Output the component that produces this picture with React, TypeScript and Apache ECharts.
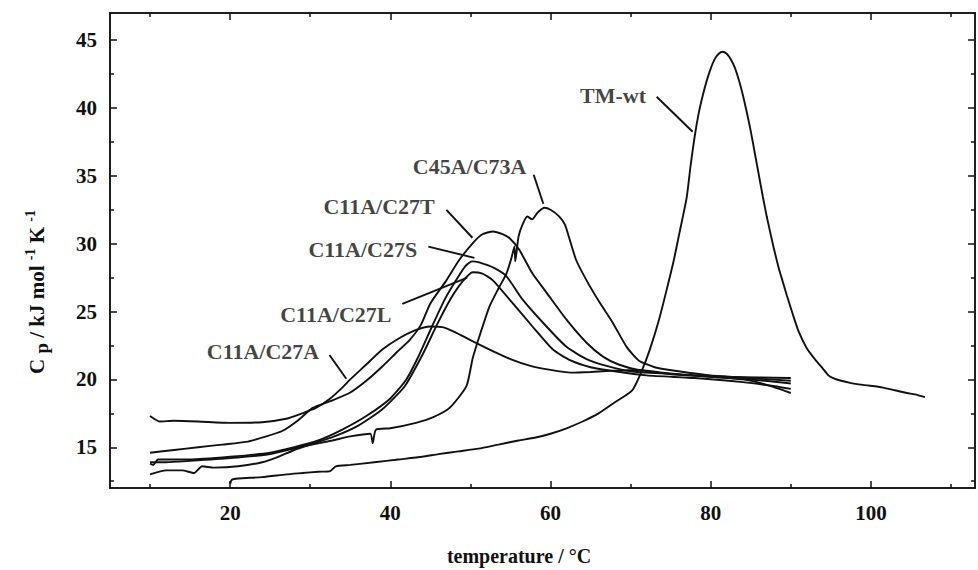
import React, { useEffect, useRef } from "react";
import * as echarts from "echarts";

// ---- axis ranges and ticks ----
const xMin = 5;
const xMax = 113;
const yMin = 12;
const yMax = 47;
const xLabelValues = [20, 40, 60, 80, 100];
const xMinorTicks = [10, 30, 50, 70, 90, 110];
const yLabelValues = [15, 20, 25, 30, 35, 40, 45];
const yMinorTicks = [12.5, 17.5, 22.5, 27.5, 32.5, 37.5, 42.5];

// ---- data: [temperature °C, Cp kJ/mol/K] ----
const tmWt: [number, number][] = [
  [20, 12.3], [20.2, 12.6], [21, 12.7], [24, 12.8], [27, 13.0], [29, 13.1], [31, 13.2], [32.5, 13.25],
  [33.2, 13.6], [35, 13.7], [38, 13.9], [41, 14.1], [44, 14.3], [46, 14.5], [48.5, 14.7], [51, 14.9],
  [53.5, 15.2], [56, 15.5], [58, 15.7], [60, 16.0], [62, 16.4], [64, 16.9], [66, 17.5], [68, 18.3],
  [70.2, 19.2], [71.3, 20.5], [72.4, 22.2], [73.5, 24.3], [74.5, 26.6], [75.4, 28.8], [76.1, 30.8],
  [77, 33.4], [77.5, 35.8], [78, 37.9], [78.5, 39.6], [79, 40.9], [79.5, 42.0], [80, 42.9],
  [80.5, 43.6], [81, 44.0], [81.5, 44.15], [82, 44.0], [82.5, 43.6], [83, 43.0], [83.5, 42.1],
  [84, 41.0], [84.5, 39.7], [85, 38.3], [85.5, 36.7], [86, 35.1], [86.5, 33.5], [87, 32.0],
  [87.75, 30.0], [88.5, 28.2], [89, 27.2], [89.5, 26.2], [90.25, 24.8], [91, 23.5], [92, 22.3],
  [93, 21.5], [94, 20.8], [94.7, 20.3], [95.3, 20.1], [96.3, 19.9], [97.4, 19.75],
  [99, 19.6], [101.5, 19.4], [103, 19.2], [104.5, 19.0], [105.5, 18.9], [106.75, 18.7],
];

const c45aC73a: [number, number][] = [
  [10, 13.9], [12, 13.9], [15, 14.0], [20, 14.2], [25, 14.5], [28.6, 15.0], [32.75, 15.5],
  [35, 15.8], [37.5, 16.0], [37.8, 15.3], [38.2, 16.3], [40, 16.4], [43.2, 16.8], [45.3, 17.2],
  [47.4, 17.9], [49.5, 19.5], [50.3, 21.6], [51.3, 23.5], [52.4, 25.4], [53.5, 26.7], [54.5, 27.8],
  [55.1, 28.9], [55.5, 29.8], [55.6, 28.7], [56.0, 30.5], [56.5, 31.4], [57.1, 32.0], [57.7, 31.8],
  [58.4, 32.3], [59.25, 32.65], [60, 32.5], [61.1, 32.0], [61.8, 31.4], [62.4, 30.3], [63.2, 28.8],
  [64.5, 27.3], [66.1, 25.7], [67.75, 24.2], [69.5, 22.4], [71, 21.4], [73, 20.9], [76, 20.6],
  [80, 20.3], [85, 20.1], [90, 19.9],
];

const c11aC27t: [number, number][] = [
  [10, 14.6], [13, 14.8], [16, 15.0], [19, 15.2], [22, 15.4], [24.5, 15.8], [26.5, 16.2],
  [28.5, 17.0], [30.3, 17.9], [32.5, 18.4], [34.9, 19.0], [37, 19.9], [39, 20.95], [40.8, 22.0],
  [42.4, 22.9], [43.8, 24.0], [45, 25.6], [47, 27.3], [48.6, 28.8], [50.3, 30.05], [51.5, 30.7],
  [52.8, 30.9], [54, 30.7], [54.9, 30.4], [56.1, 29.55], [57.75, 27.8], [59.5, 26.4], [62, 24.4],
  [64.5, 22.7], [66.5, 21.7], [68.5, 21.1], [71, 20.7], [75, 20.4], [80, 20.2], [84, 20.0],
  [87, 19.6], [90, 19.0],
];

const c11aC27s: [number, number][] = [
  [10, 13.8], [10.4, 13.7], [11, 14.1], [15, 14.1], [20, 14.3], [25, 14.6], [28, 15.0], [31, 15.5],
  [34, 16.3], [37, 17.3], [40, 18.6], [42, 20.0], [43.6, 21.8], [45.2, 23.9], [46.8, 25.9],
  [48.2, 27.3], [49.3, 28.3], [50.2, 28.7], [51.2, 28.6], [53, 28.2], [54.5, 27.6], [56.5, 25.9],
  [59.5, 23.9], [62, 22.4], [64.5, 21.5], [67, 21.0], [70, 20.6], [75, 20.4], [80, 20.2],
  [85, 20.0], [90, 19.7],
];

const c11aC27l: [number, number][] = [
  [10, 13.0], [12, 13.3], [14, 13.3], [15.5, 13.1], [16.5, 13.6], [18, 13.5], [21, 13.6],
  [24, 13.9], [26, 14.3], [28, 14.8], [30, 15.2], [33, 15.8], [36, 16.6], [39, 17.8], [41.8, 19.5],
  [44, 21.8], [45.8, 24.0], [47.5, 25.9], [49, 27.2], [50.3, 27.9], [51.5, 27.8], [52.8, 27.3],
  [55.3, 25.6], [57.75, 23.9], [60.3, 22.2], [62.5, 21.4], [65, 20.9], [68, 20.6], [72, 20.3],
  [78, 20.1], [84, 19.8], [88, 19.5], [90, 19.3],
];

const c11aC27a: [number, number][] = [
  [10, 17.3], [10.5, 17.1], [11.2, 16.9], [13, 16.95], [16, 16.9], [20, 16.8], [24, 16.85],
  [27, 17.1], [29, 17.5], [30.7, 17.9], [32.5, 18.6], [34, 19.4], [35, 20.0], [37, 21.1],
  [39, 22.2], [41, 23.0], [43, 23.6], [45, 23.9], [46.5, 23.85], [48, 23.5], [50, 22.9],
  [52.4, 22.2], [55, 21.5], [57.5, 21.0], [60, 20.7], [62.5, 20.5], [65, 20.55], [68, 20.65],
  [71, 20.7], [74, 20.5], [78, 20.3], [82, 20.2], [86, 20.15], [90, 20.1],
];

const seriesNames = ["TM-wt", "C45A/C73A", "C11A/C27T", "C11A/C27S", "C11A/C27L", "C11A/C27A"];
const seriesData = [tmWt, c45aC73a, c11aC27t, c11aC27s, c11aC27l, c11aC27a];

// ---- annotation labels (data coordinates) ----
const labelNames = ["TM-wt", "C45A/C73A", "C11A/C27T", "C11A/C27S", "C11A/C27L", "C11A/C27A"];
const labelPos: [number, number][] = [
  [67.8, 40.9], [49.9, 35.67], [38.6, 32.72], [36.56, 29.55], [33.2, 24.76], [24.1, 22.04],
];
const leaderStart: [number, number][] = [
  [73.25, 40.83], [57.9, 35.08], [47.0, 32.5], [44.75, 29.78], [41.5, 25.57], [32.4, 21.8],
];
const leaderEnd: [number, number][] = [
  [77.75, 38.25], [59.1, 32.94], [50.25, 30.44], [50.5, 28.96], [49.6, 27.5], [34.5, 20.05],
];

const SERIF = "'Liberation Serif', 'Times New Roman', 'DejaVu Serif', serif";
const BLACK = "#111";

export default function App() {
  const ref = useRef<HTMLDivElement>(null);

  useEffect(() => {
    if (!ref.current) return;
    const chart = echarts.init(ref.current, undefined, { renderer: "svg" });

    const axisLineStyle = { color: BLACK, width: 1.5 };
    const baseAxis = {
      type: "value" as const,
      splitLine: { show: false },
      axisLine: { show: true, onZero: false, lineStyle: axisLineStyle },
    };
    const tickLabelStyle = {
      color: BLACK,
      fontFamily: SERIF,
      fontWeight: "bold" as const,
      fontSize: 21,
    };

    const curveSeries = seriesNames.map((n, i) => ({
      name: n,
      type: "line" as const,
      data: seriesData[i],
      showSymbol: false,
      symbol: "none",
      smooth: 0.2,
      lineStyle: { color: BLACK, width: 1.9 },
      silent: true,
      z: 3,
    }));

    const leaderSeries = labelNames.map((n, i) => ({
      name: "leader-" + n,
      type: "line" as const,
      data: [leaderStart[i], leaderEnd[i]],
      symbol: "none",
      lineStyle: { color: BLACK, width: 1.9 },
      silent: true,
      z: 4,
    }));

    const labelSeries = {
      name: "labels",
      type: "scatter" as const,
      symbolSize: 0,
      data: labelNames.map((n, i) => ({ name: n, value: labelPos[i] })),
      label: {
        show: true,
        position: "inside" as const,
        formatter: "{b}",
        color: BLACK,
        fontFamily: SERIF,
        fontWeight: "bold" as const,
        fontSize: 22,
      },
      silent: true,
      z: 5,
    };

    chart.setOption({
      animation: false,
      backgroundColor: "#fff",
      grid: { left: 110, right: 3, top: 13, bottom: 82, containLabel: false },
      xAxis: [
        {
          ...baseAxis,
          min: xMin,
          max: xMax,
          position: "bottom",
          axisTick: { show: true, inside: true, length: 7, customValues: xLabelValues, lineStyle: axisLineStyle },
          axisLabel: { ...tickLabelStyle, margin: 14, customValues: xLabelValues },
        },
        {
          ...baseAxis,
          min: xMin,
          max: xMax,
          position: "bottom",
          axisTick: { show: true, inside: true, length: 4, customValues: xMinorTicks, lineStyle: axisLineStyle },
          axisLabel: { show: false },
        },
        {
          ...baseAxis,
          min: xMin,
          max: xMax,
          position: "top",
          axisTick: { show: true, inside: true, length: 7, customValues: xLabelValues, lineStyle: axisLineStyle },
          axisLabel: { show: false },
        },
        {
          ...baseAxis,
          min: xMin,
          max: xMax,
          position: "top",
          axisTick: { show: true, inside: true, length: 4, customValues: xMinorTicks, lineStyle: axisLineStyle },
          axisLabel: { show: false },
        },
      ],
      yAxis: [
        {
          ...baseAxis,
          min: yMin,
          max: yMax,
          position: "left",
          axisTick: { show: true, inside: true, length: 7, customValues: yLabelValues, lineStyle: axisLineStyle },
          axisLabel: { ...tickLabelStyle, margin: 13, customValues: yLabelValues },
        },
        {
          ...baseAxis,
          min: yMin,
          max: yMax,
          position: "left",
          axisTick: { show: true, inside: true, length: 4, customValues: yMinorTicks, lineStyle: axisLineStyle },
          axisLabel: { show: false },
        },
        {
          ...baseAxis,
          min: yMin,
          max: yMax,
          position: "right",
          axisTick: { show: true, inside: true, length: 7, customValues: yLabelValues, lineStyle: axisLineStyle },
          axisLabel: { show: false },
        },
        {
          ...baseAxis,
          min: yMin,
          max: yMax,
          position: "right",
          axisTick: { show: true, inside: true, length: 4, customValues: yMinorTicks, lineStyle: axisLineStyle },
          axisLabel: { show: false },
        },
      ],
      series: [...curveSeries, ...leaderSeries, labelSeries],
      graphic: [
        {
          type: "text",
          x: 519,
          y: 556,
          style: {
            text: "temperature / °C",
            fill: BLACK,
            font: `bold 20px ${SERIF}`,
            align: "center",
            verticalAlign: "middle",
          },
        },
        {
          type: "text",
          x: 37,
          y: 292,
          rotation: Math.PI / 2,
          style: {
            text: "{m|C }{sub|p}{m| / kJ mol }{sup|-1}{m| K }{sup|-1}",
            fill: BLACK,
            align: "center",
            verticalAlign: "middle",
            rich: {
              m: { fontSize: 21, fontWeight: "bold", fontFamily: SERIF, fill: BLACK, lineHeight: 28, verticalAlign: "middle" },
              sub: { fontSize: 19, fontWeight: "bold", fontFamily: SERIF, fill: BLACK, lineHeight: 20, verticalAlign: "bottom" },
              sup: { fontSize: 14, fontWeight: "bold", fontFamily: SERIF, fill: BLACK, lineHeight: 16, verticalAlign: "top" },
            },
          },
        },
      ],
    });

    return () => chart.dispose();
  }, []);

  return (
    <div
      ref={ref}
      style={{ position: "absolute", left: 0, top: 0, width: 978, height: 570, background: "#fff" }}
    />
  );
}
